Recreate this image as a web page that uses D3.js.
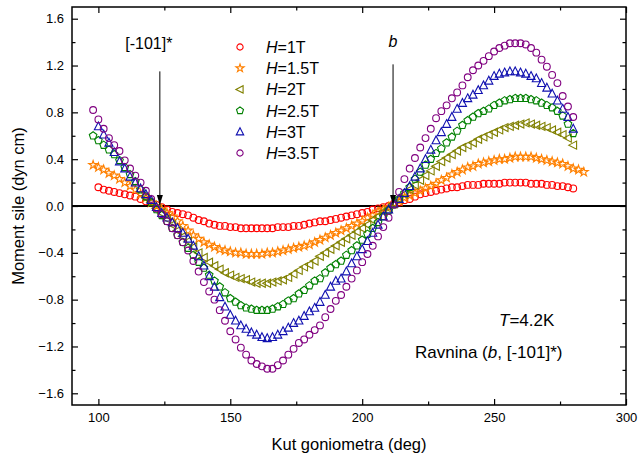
<!DOCTYPE html>
<html>
<head>
<meta charset="utf-8">
<script src="https://cdn.jsdelivr.net/npm/d3@7"></script>
<style>
  body { margin: 0; background: #fff; }
  text { font-family: "Liberation Sans", Arial, sans-serif; }
</style>
</head>
<body>
<div class="chart"></div>
<script>
// angle grid (deg) shared by all series
const angles = [98,100,102,104,106,108,110,112,114,116,118,120,122,124,126,128,130,132,134,136,
  138,140,142,144,146,148,150,152,154,156,158,160,162,164,166,168,170,172,174,176,
  178,180,182,184,186,188,190,192,194,196,198,200,202,204,206,208,210,212,214,216,
  218,220,222,224,226,228,230,232,234,236,238,240,242,244,246,248,250,252,254,256,
  258,260,262,264,266,268,270,272,274,276,278,280,282,284];

const m1T = [null,
  0.16,0.14,0.13,0.12,0.11,0.10,0.09,0.08,0.06,0.04,
  0.03,0.01,-0.01,-0.03,-0.05,-0.06,-0.07,-0.08,-0.10,-0.12,
  -0.13,-0.15,-0.16,-0.17,-0.17,-0.18,-0.18,-0.19,-0.19,-0.19,
  -0.19,-0.19,-0.19,-0.19,-0.18,-0.18,-0.18,-0.17,-0.17,-0.16,
  -0.15,-0.14,-0.13,-0.13,-0.12,-0.11,-0.10,-0.09,-0.08,-0.07,
  -0.06,-0.05,-0.03,-0.02,-0.01,0.00,0.02,0.03,0.05,0.06,
  0.08,0.10,0.11,0.12,0.13,0.14,0.15,0.16,0.16,0.17,
  0.18,0.18,0.18,0.19,0.19,0.19,0.19,0.20,0.20,0.20,
  0.20,0.20,0.19,0.19,0.19,0.18,0.18,0.17,0.17,0.16,
  0.15, null, null];

const m15T = [
  0.35,0.33,0.31,0.28,0.26,0.23,0.20,0.17,0.14,0.10,
  0.07,0.03,0.00,-0.03,-0.06,-0.09,-0.13,-0.17,-0.21,-0.25,
  -0.28,-0.31,-0.33,-0.35,-0.37,-0.38,-0.39,-0.40,-0.40,-0.41,
  -0.41,-0.41,-0.41,-0.40,-0.40,-0.39,-0.38,-0.37,-0.36,-0.35,
  -0.34,-0.33,-0.31,-0.29,-0.27,-0.25,-0.23,-0.21,-0.19,-0.17,
  -0.15,-0.13,-0.10,-0.08,-0.05,-0.03,-0.01,0.02,0.04,0.07,
  0.09,0.11,0.13,0.15,0.17,0.19,0.22,0.24,0.27,0.29,
  0.31,0.33,0.34,0.36,0.37,0.38,0.39,0.40,0.40,0.41,
  0.42,0.42,0.42,0.42,0.41,0.40,0.39,0.38,0.37,0.36,
  0.34,0.32,0.31,0.29];

const m2T = [null,null,null,null,null,null,null,null,null,null,
  0.07,0.03,-0.02,-0.06,-0.11,-0.16,-0.21,-0.26,-0.30,-0.35,
  -0.40,-0.44,-0.48,-0.51,-0.54,-0.57,-0.59,-0.61,-0.62,-0.63,
  -0.65,-0.66,-0.66,-0.66,-0.65,-0.64,-0.63,-0.61,-0.58,-0.55,
  -0.52,-0.50,-0.47,-0.43,-0.40,-0.37,-0.34,-0.31,-0.28,-0.25,
  -0.22,-0.19,-0.16,-0.12,-0.09,-0.05,-0.02,0.02,0.06,0.10,
  0.14,0.18,0.22,0.26,0.30,0.34,0.38,0.41,0.44,0.47,
  0.50,0.52,0.54,0.57,0.59,0.61,0.63,0.65,0.67,0.68,
  0.69,0.70,0.71,0.70,0.69,0.68,0.67,0.65,0.63,0.61,
  0.58,0.52, null, null];

const m25T = [
  0.60,0.56,0.52,0.48,0.44,0.39,0.33,0.27,0.21,0.14,
  0.08,0.03,-0.03,-0.08,-0.13,-0.19,-0.25,-0.31,-0.36,-0.42,
  -0.48,-0.53,-0.59,-0.64,-0.69,-0.74,-0.79,-0.82,-0.85,-0.87,
  -0.88,-0.89,-0.89,-0.89,-0.88,-0.86,-0.84,-0.81,-0.79,-0.75,
  -0.72,-0.68,-0.64,-0.62,-0.57,-0.53,-0.50,-0.47,-0.42,-0.38,
  -0.34,-0.29,-0.24,-0.19,-0.14,-0.09,-0.04,0.01,0.06,0.11,
  0.16,0.23,0.29,0.35,0.40,0.45,0.49,0.54,0.59,0.64,
  0.69,0.73,0.76,0.79,0.81,0.83,0.86,0.88,0.90,0.91,
  0.92,0.92,0.92,0.91,0.90,0.88,0.86,0.84,0.81,0.77,
  0.70,0.62, null, null];

const m3T = [null,
  0.68,0.61,0.54,0.46,0.38,0.32,0.25,0.20,0.15,0.10,
  0.05,-0.01,-0.06,-0.10,-0.14,-0.19,-0.23,-0.28,-0.34,-0.43,
  -0.51,-0.60,-0.69,-0.78,-0.86,-0.93,-0.98,-1.02,-1.05,-1.08,
  -1.10,-1.12,-1.13,-1.12,-1.10,-1.07,-1.04,-1.00,-0.98,-0.94,
  -0.90,-0.87,-0.82,-0.76,-0.69,-0.64,-0.62,-0.56,-0.49,-0.43,
  -0.37,-0.30,-0.23,-0.16,-0.09,-0.03,0.02,0.06,0.11,0.17,
  0.25,0.32,0.40,0.48,0.56,0.63,0.70,0.76,0.83,0.88,
  0.92,0.95,0.99,1.03,1.07,1.11,1.13,1.14,1.15,1.15,
  1.14,1.13,1.11,1.09,1.05,1.01,0.96,0.90,0.83,0.76,
  0.66, null, null];

const m35T = [
  0.82,0.74,0.66,0.58,0.52,0.47,0.39,0.32,0.26,0.20,
  0.13,0.06,-0.02,-0.07,-0.13,-0.19,-0.25,-0.31,-0.38,-0.47,
  -0.56,-0.65,-0.73,-0.80,-0.89,-0.98,-1.07,-1.14,-1.21,-1.27,
  -1.32,-1.35,-1.37,-1.39,-1.39,-1.36,-1.32,-1.27,-1.22,-1.17,
  -1.14,-1.10,-1.06,-1.02,-0.95,-0.88,-0.81,-0.76,-0.69,-0.62,
  -0.55,-0.48,-0.41,-0.34,-0.26,-0.18,-0.10,0.01,0.12,0.23,
  0.32,0.41,0.50,0.58,0.66,0.75,0.81,0.86,0.92,0.97,
  1.03,1.10,1.16,1.20,1.24,1.28,1.32,1.35,1.37,1.39,
  1.39,1.39,1.38,1.35,1.31,1.25,1.19,1.12,1.05,0.94,
  0.85,0.76, null, null];

const fieldLabels = ["1T", "1.5T", "2T", "2.5T", "3T", "3.5T"];
const xMajor = [100, 150, 200, 250, 300];
const xMinor = [125, 175, 225, 275];
const yMajor = [-1.6, -1.2, -0.8, -0.4, 0.0, 0.4, 0.8, 1.2, 1.6];
const yMinor = [-1.4, -1.0, -0.6, -0.2, 0.2, 0.6, 1.0, 1.4];

// custom marker shapes
const pentagon = {
  draw(ctx, size) {
    const r = Math.sqrt(size / 2.38);
    for (let i = 0; i < 5; i++) {
      const a = -Math.PI / 2 + i * 2 * Math.PI / 5;
      i ? ctx.lineTo(r * Math.cos(a), r * Math.sin(a)) : ctx.moveTo(r * Math.cos(a), r * Math.sin(a));
    }
    ctx.closePath();
  }
};
const triLeft = {
  draw(ctx, size) {
    const r = Math.sqrt(size / 1.3);
    ctx.moveTo(-r, 0);
    ctx.lineTo(r * 0.75, -r * 0.9);
    ctx.lineTo(r * 0.75, r * 0.9);
    ctx.closePath();
  }
};
const triUp = {
  draw(ctx, size) {
    const r = Math.sqrt(size / 1.3);
    ctx.moveTo(0, -r);
    ctx.lineTo(r * 0.9, r * 0.75);
    ctx.lineTo(-r * 0.9, r * 0.75);
    ctx.closePath();
  }
};

const series = [
  {label: fieldLabels[0], values: m1T,  color: "#ff0000", shape: d3.symbolCircle, size: 36},
  {label: fieldLabels[1], values: m15T, color: "#ff8000", shape: d3.symbolStar, size: 24},
  {label: fieldLabels[2], values: m2T,  color: "#808000", shape: triLeft, size: 26},
  {label: fieldLabels[3], values: m25T, color: "#008000", shape: pentagon, size: 38},
  {label: fieldLabels[4], values: m3T,  color: "#1010b0", shape: triUp, size: 26},
  {label: fieldLabels[5], values: m35T, color: "#800080", shape: d3.symbolCircle, size: 36}
];

const margin = {top: 7, left: 72, right: 12, bottom: 58};
const width = 638 - margin.left - margin.right;
const height = 463 - margin.top - margin.bottom;

const svg = d3.select(".chart").append("svg")
    .attr("width", width + margin.left + margin.right)
    .attr("height", height + margin.top + margin.bottom)
    .append("g")
    .attr("transform", "translate(" + margin.left + "," + margin.top + ")");

const xScale = d3.scaleLinear().domain([90, 300]).range([0, width]);
const yScale = d3.scaleLinear().domain([-1.7, 1.7]).range([height, 0]);

// axes, ticks pointing inward on all sides
function styleAxis(g) {
  g.select(".domain").remove();
  g.selectAll("line").attr("stroke", "#000").attr("stroke-width", 1.2);
  g.selectAll("text").attr("fill", "#000").attr("font-size", 13);
}

svg.append("g").attr("transform", `translate(0,${height})`)
    .call(d3.axisBottom(xScale).tickValues(xMajor).tickSize(-6).tickPadding(8).tickFormat(d3.format("d")))
    .call(styleAxis);
svg.append("g").attr("transform", `translate(0,${height})`)
    .call(d3.axisBottom(xScale).tickValues(xMinor).tickSize(-3.5).tickFormat(""))
    .call(styleAxis);
svg.append("g")
    .call(d3.axisTop(xScale).tickValues(xMajor).tickSize(-6).tickFormat(""))
    .call(styleAxis);
svg.append("g")
    .call(d3.axisTop(xScale).tickValues(xMinor).tickSize(-3.5).tickFormat(""))
    .call(styleAxis);

svg.append("g")
    .call(d3.axisLeft(yScale).tickValues(yMajor).tickSize(-6).tickPadding(8).tickFormat(d3.format(".1f")))
    .call(styleAxis);
svg.append("g")
    .call(d3.axisLeft(yScale).tickValues(yMinor).tickSize(-3.5).tickFormat(""))
    .call(styleAxis);
svg.append("g").attr("transform", `translate(${width},0)`)
    .call(d3.axisRight(yScale).tickValues(yMajor).tickSize(-6).tickFormat(""))
    .call(styleAxis);
svg.append("g").attr("transform", `translate(${width},0)`)
    .call(d3.axisRight(yScale).tickValues(yMinor).tickSize(-3.5).tickFormat(""))
    .call(styleAxis);

svg.append("rect")
    .attr("width", width).attr("height", height)
    .attr("fill", "none").attr("stroke", "#000").attr("stroke-width", 1.5);

// zero line
svg.append("line")
    .attr("x1", 0).attr("x2", width)
    .attr("y1", yScale(0)).attr("y2", yScale(0))
    .attr("stroke", "#000").attr("stroke-width", 2);

// axis titles
svg.append("text")
    .attr("x", width / 2).attr("y", height + 45)
    .attr("text-anchor", "middle").attr("font-size", 16.5)
    .text("Kut goniometra (deg)");
svg.append("text")
    .attr("transform", `translate(${-48},${yScale(0)}) rotate(-90)`)
    .attr("text-anchor", "middle").attr("font-size", 16.5)
    .text("Moment sile (dyn cm)");

// data points
series.forEach(s => {
  const sym = d3.symbol().type(s.shape).size(s.size);
  svg.append("g").selectAll("path")
      .data(angles.map((a, i) => ({a, v: s.values[i]})).filter(d => d.v !== null))
      .enter().append("path")
      .attr("d", sym)
      .attr("transform", d => `translate(${xScale(d.a)},${yScale(d.v)})`)
      .attr("fill", "none")
      .attr("stroke", s.color)
      .attr("stroke-width", 1.1);
});

// arrows
svg.append("defs").append("marker")
    .attr("id", "head").attr("viewBox", "0 0 10 10")
    .attr("refX", 10).attr("refY", 5)
    .attr("markerWidth", 10).attr("markerHeight", 10)
    .attr("markerUnits", "userSpaceOnUse")
    .attr("orient", "auto")
    .append("path").attr("d", "M0,2L10,5L0,8Z").attr("fill", "#000");

const arrows = [
  {a: 123.3, top: 1.15, label: "[-101]*", italic: false, ty: 1.34},
  {a: 211.7, top: 1.21, label: "b", italic: true, ty: 1.36}
];
arrows.forEach(d => {
  svg.append("line")
      .attr("x1", xScale(d.a)).attr("x2", xScale(d.a))
      .attr("y1", yScale(d.top)).attr("y2", yScale(0) - 1)
      .attr("stroke", "#000").attr("stroke-width", 1)
      .attr("marker-end", "url(#head)");
  svg.append("text")
      .attr("x", xScale(d.a) - (d.italic ? 0 : 11)).attr("y", yScale(d.ty))
      .attr("text-anchor", "middle").attr("font-size", 16)
      .attr("font-style", d.italic ? "italic" : "normal")
      .text(d.label);
});

// legend
const legend = svg.append("g").attr("transform", "translate(168,40)");
series.forEach((s, i) => {
  const row = legend.append("g").attr("transform", `translate(0,${i * 21.2})`);
  row.append("path")
      .attr("d", d3.symbol().type(s.shape).size(s.size * 0.85))
      .attr("fill", "none").attr("stroke", s.color).attr("stroke-width", 1.1);
  const t = row.append("text").attr("x", 26).attr("y", 6).attr("font-size", 16);
  t.append("tspan").attr("font-style", "italic").text("H");
  t.append("tspan").text("=" + s.label);
});

// conditions
const cond = svg.append("text")
    .attr("x", 427).attr("y", 319).attr("font-size", 17);
cond.append("tspan").attr("font-style", "italic").text("T");
cond.append("tspan").text("=4.2K");
const plane = svg.append("text")
    .attr("x", 343).attr("y", 351).attr("font-size", 17);
plane.append("tspan").text("Ravnina (");
plane.append("tspan").attr("font-style", "italic").text("b");
plane.append("tspan").text(", [-101]*)");
</script>
</body>
</html>
